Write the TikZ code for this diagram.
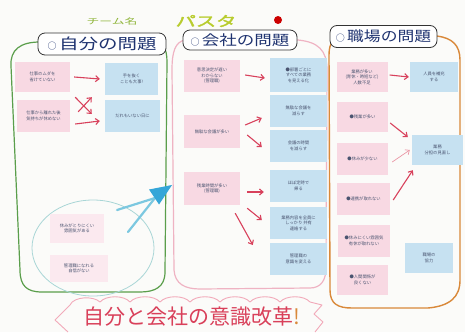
\documentclass[tikz,border=0pt]{standalone}
\usepackage{fontspec}
\usepackage{graphicx}
\newfontfamily\jp{Noto Sans CJK JP}
\newfontfamily\jpbold[FakeBold=2]{Noto Sans CJK JP}
\usetikzlibrary{arrows.meta,shapes.geometric,calc}
\definecolor{bg}{HTML}{FBFBF9}
\definecolor{notepink}{HTML}{F8D9E3}
\definecolor{notepinklight}{HTML}{FBE9EF}
\definecolor{noteblue}{HTML}{C6E1F1}
\definecolor{notetext}{HTML}{4A5470}
\definecolor{arrowred}{HTML}{D8415C}
\definecolor{framegreen}{HTML}{5A9E4B}
\definecolor{framepink}{HTML}{EFB3C3}
\definecolor{frameorange}{HTML}{D9893A}
\definecolor{titlenavy}{HTML}{1F3370}
\definecolor{bannerred}{HTML}{D9405A}
\definecolor{pastagreen}{HTML}{B8CC2E}
\definecolor{teamgreen}{HTML}{8FB53A}
\definecolor{circteal}{HTML}{A9D6D6}
\definecolor{bluearrow}{HTML}{7CC8E0}
\definecolor{bluehead}{HTML}{35A6D8}
\definecolor{cloudpink}{HTML}{F2AABA}
\newcommand{\smallcirc}{{\fontsize{9}{9}\selectfont ○}\,}
\tikzset{
  note/.style={inner sep=1pt, font=\jp\fontsize{4.3}{5.4}\selectfont, text=notetext, align=center},
  pinknote/.style={note, fill=notepink},
  pinkfaint/.style={note, fill=notepinklight},
  bluenote/.style={note, fill=noteblue},
  redarrow/.style={draw=arrowred, line width=1.1pt, -{Straight Barb[length=3.5pt,width=6pt]}},
  titlebox/.style={draw=black!80, line width=0.8pt, fill=white, rounded corners=7pt, inner sep=0pt, text=titlenavy},
  frame/.style={line width=1.2pt}
}
\begin{document}
\begin{tikzpicture}[x=1pt,y=-1pt]
\useasboundingbox (0,0) rectangle (465,332);
\fill[bg] (0,0) rectangle (465,332);

% frames
\draw[frame, framegreen] (40,42) -- (150,41) .. controls (163,41) and (167,48) .. (167,62) -- (165,272) .. controls (165,287) and (155,292) .. (140,292) -- (42,292) .. controls (27,292) and (20,286) .. (20,270) -- (11,66) .. controls (10,50) and (20,42) .. (40,42);
\draw[frame, framepink] (185,40) .. controls (175,42) and (172,52) .. (172,70) -- (174,270) .. controls (175,284) and (185,289) .. (200,289) -- (310,288) .. controls (321,288) and (326,280) .. (326,268) -- (327,70) .. controls (327,50) and (318,42) .. (298,40) -- cycle;
\draw[frame, frameorange, line width=1.4pt] (345,35) .. controls (334,37) and (329,42) .. (329,55) -- (330,290) .. controls (330,304) and (338,308) .. (352,308) -- (428,308) .. controls (450,306) and (460,297) .. (460,280) -- (460,60) .. controls (460,45) and (452,38) .. (437,36) -- cycle;

% left panel
\node[circteal, draw, line width=0.8pt, ellipse, minimum width=122pt, minimum height=96pt] (circ) at (93,248) {};
\node[pinknote, minimum width=55pt, minimum height=30pt] (L1) at (42.5,77) {仕事のムダを\\省けていない};
\node[bluenote, minimum width=53pt, minimum height=32pt] (LB1) at (131.5,79) {手を抜く\\ことも大事!};
\node[pinknote, minimum width=53pt, minimum height=32pt] (L2) at (43.5,116) {仕事から離れた後\\気持ちが休めない};
\node[bluenote, minimum width=55pt, minimum height=32pt] (LB2) at (132.5,116) {だれもいない日に};
\node[pinkfaint, minimum width=54pt, minimum height=29pt] (CP1) at (77,228.5) {休みがとりにくい\\雰囲気がある};
\node[pinkfaint, minimum width=58pt, minimum height=27pt] (CP2) at (79,268.5) {管理職になれる\\自信がない};

\draw[redarrow] ([xshift=4pt]L1.east) -- ([xshift=-5pt]LB1.west);
\draw[redarrow] ([xshift=8pt,yshift=-12pt]L2.north east) -- ([xshift=-13pt,yshift=-2pt]LB1.south west);
\draw[redarrow] ([xshift=5pt,yshift=-5pt]L1.south east) -- ([xshift=-13pt,yshift=2pt]LB2.west);
\draw[redarrow] ([xshift=5pt,yshift=-8pt]L2.east) -- ([xshift=-5pt,yshift=-5pt]LB2.west);

% blue arrow from circle
\coordinate (s1) at (117,210);
\coordinate (s2) at (128,232);
\coordinate (ah) at (155,198);
\draw[bluearrow, line width=2.2pt, line cap=round] (s1) -- (ah);
\draw[bluearrow, line width=2.2pt, line cap=round] (s2) -- (ah);
\fill[bluehead] (172,185) -- (149,189.5) -- (159,204.5) -- cycle;

% company panel
\node[pinknote, minimum width=56pt, minimum height=32pt] (C1) at (212,76) {意思決定が遅い\\わからない\\(管理職)};
\node[bluenote, minimum width=57pt, minimum height=34pt] (CB1) at (298.5,75) {●部署ごとに\\すべての業務\\を見える化};
\node[bluenote, minimum width=57pt, minimum height=32pt] (CB2) at (298.5,111) {無駄な会議を\\減らす};
\node[pinknote, minimum width=56pt, minimum height=33pt] (C2) at (212,131.5) {無駄な会議が多い};
\node[bluenote, minimum width=57pt, minimum height=32pt] (CB3) at (298.5,146) {会議の時間\\を減らす};
\node[pinknote, minimum width=56pt, minimum height=33pt] (C3) at (212,188.5) {残業時間が多い\\(管理職)};
\node[bluenote, minimum width=57pt, minimum height=32pt] (CB4) at (298.5,186) {ほぼ定時で\\帰る};
\node[bluenote, minimum width=57pt, minimum height=32pt] (CB5) at (298.5,223) {業務内容を全員に\\しっかり 共有\\連絡する};
\node[bluenote, minimum width=57pt, minimum height=32pt] (CB6) at (298.5,259) {管理職の\\意識を変える};

\draw[redarrow] ([xshift=5pt,yshift=1pt]C1.east) -- ([xshift=-5pt,yshift=-3pt]CB1.west);
\draw[redarrow] ([xshift=5pt,yshift=6.5pt]C2.east) -- ([xshift=-8pt,yshift=-7pt]CB2.west);
\draw[redarrow] ([xshift=7pt,yshift=-3.5pt]C2.east) -- ([xshift=-8pt,yshift=-1pt]CB3.west);
\draw[redarrow] ([xshift=7pt,yshift=-3.5pt]C3.east) -- ([xshift=-6pt,yshift=-6pt]CB4.west);
\draw[redarrow] ([xshift=7pt,yshift=-3pt]C3.south east) -- ([xshift=-8pt,yshift=3pt]CB5.west);
\draw[redarrow] ([xshift=-5pt,yshift=-8pt]C3.south east) -- ([xshift=-17pt,yshift=14pt]CB6.west);

% workplace panel
\node[pinknote, minimum width=51pt, minimum height=30pt] (W1) at (362,77) {業務が多い\\(育休・時短など)\\人数不足};
\node[bluenote, minimum width=48pt, minimum height=30pt] (WB1) at (434,77) {人員を補充\\する};
\node[pinknote, minimum width=51pt, minimum height=30pt] (W2) at (362.5,117) {●残業が多い};
\node[pinknote, minimum width=51pt, minimum height=32pt] (W3) at (362.5,159) {●休みが少ない};
\node[bluenote, minimum width=51pt, minimum height=30pt] (WB2) at (437.5,150) {業務\\分担の見直し};
\node[pinknote, minimum width=53pt, minimum height=32pt] (W4) at (363.5,199) {●連携が取れない};
\node[pinknote, minimum width=52pt, minimum height=32pt] (W5) at (364,241) {●休みにくい雰囲気\\有休が取れない};
\node[bluenote, minimum width=48pt, minimum height=30pt] (WB3) at (429,258) {職場の\\協力};
\node[pinknote, minimum width=51pt, minimum height=30pt] (W6) at (362.5,280) {●人間関係が\\良くない};

\draw[redarrow] ([xshift=2pt,yshift=2pt]W1.east) -- ([xshift=-1pt]WB1.west);
\draw[redarrow] ([xshift=2pt,yshift=-6pt]W2.east) -- ([xshift=-4pt,yshift=13pt]WB2.west);
\draw[redarrow, draw=arrowred!55, line width=0.7pt] ([xshift=4pt,yshift=-3pt]W3.east) -- ([xshift=-2pt]WB2.west);
\draw[redarrow] ([xshift=3pt,yshift=-1pt]W4.east) -- ([xshift=1pt,yshift=-5pt]WB2.south west);

% titles
\node[titlebox, minimum width=128pt, minimum height=22pt, font=\jp\fontsize{15}{15}\selectfont] (T1) at (102,44) {\smallcirc\scalebox{1.3}[1]{自分の問題}};
\node[titlebox, minimum width=114pt, minimum height=20pt, font=\jp\fontsize{14}{14}\selectfont] (T2) at (240,40) {\smallcirc\scalebox{1.25}[1]{会社の問題}};
\node[titlebox, minimum width=107pt, minimum height=22pt, font=\jp\fontsize{14}{14}\selectfont] (T3) at (383.5,36.5) {\smallcirc\scalebox{1.2}[1]{職場の問題}};

\node[font=\jp\fontsize{8}{8}\selectfont, text=teamgreen] (team) at (112,21) {\scalebox{1.6}[1]{チーム名}};
\node[font=\jpbold\fontsize{14}{14}\selectfont, text=pastagreen] (pasta) at (206,21) {\scalebox{1.45}[1]{パスタ}};
\fill[red!80!black] (278,20) circle (4);

% banner cloud
\draw[cloudpink, line width=0.9pt, line join=round]
  (68,332) -- (55,320) -- (70,305)
  .. controls (74,296) and (94,296) .. (100,302)
  .. controls (106,295) and (124,295) .. (130,302)
  .. controls (136,295) and (154,295) .. (160,302)
  .. controls (166,295) and (184,295) .. (190,302)
  .. controls (196,295) and (214,295) .. (220,302)
  .. controls (226,295) and (244,295) .. (250,302)
  .. controls (256,295) and (274,295) .. (280,302)
  .. controls (286,295) and (304,295) .. (310,302)
  -- (322,305) -- (314,314) -- (323,322) -- (315,332);
\node[font=\jp\fontsize{21}{21}\selectfont, text=bannerred] (ban) at (192,317) {自分と会社の意識改革{\color{frameorange}!}};
\end{tikzpicture}
\end{document}
